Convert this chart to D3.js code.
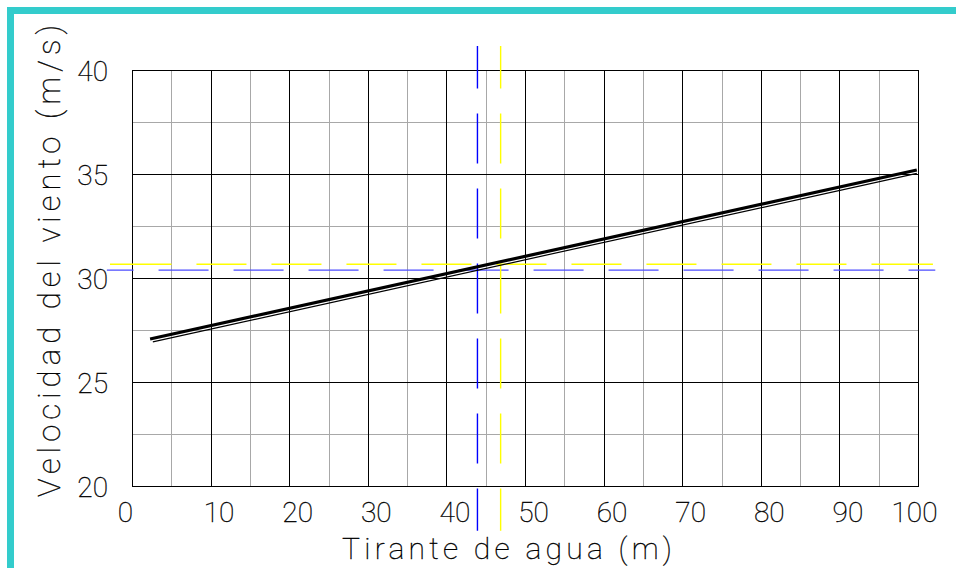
<!DOCTYPE html>
<html>
<head>
<meta charset="utf-8">
<script src="https://cdn.jsdelivr.net/npm/d3@7"></script>
<style>
  body { margin: 0; background: #fff; }
  svg { display: block; }
  text { font-family: Roboto, "DejaVu Sans", sans-serif; font-weight: 100; fill: #000; stroke: #000; stroke-width: 0.35; }
</style>
</head>
<body>
<div id="chart"></div>
<script>
// tirante de agua (m) vs velocidad del viento (m/s)
const lineUpper = [[2.3, 27.07], [99.85, 35.19]];
const lineLower = [[2.65, 26.93], [99.85, 35.03]];

// reference (dashed) lines
const vLines = [
  { x: 43.95, y0: 41.15, y1: 17.85, color: "#0000ff" },
  { x: 46.9, y0: 41.15, y1: 17.85, color: "#ffff00" }
];
const hLines = [
  { y: 30.38, x0: -3.2, x1: 102.2, color: "#4d4dff" },
  { y: 30.66, x0: -2.8, x1: 101.9, color: "#ffff00" }
];

const xTicks = [0, 10, 20, 30, 40, 50, 60, 70, 80, 90, 100];
const xMinor = [5, 15, 25, 35, 45, 55, 65, 75, 85, 95];
const yTicks = [20, 25, 30, 35, 40];
const yMinor = [22.5, 27.5, 32.5, 37.5];

const width = 956;
const height = 568;
const margin = { top: 70, right: 38, bottom: 82, left: 132 };

const svg = d3.select("#chart")
  .append("svg")
  .attr("width", width)
  .attr("height", height);

const x = d3.scaleLinear()
  .domain([0, 100])
  .range([margin.left, width - margin.right]);

const y = d3.scaleLinear()
  .domain([20, 40])
  .range([height - margin.bottom, margin.top]);

// cyan frame
svg.append("rect").attr("x", 7).attr("y", 7).attr("width", width - 7).attr("height", 7).attr("fill", "#33cccc");
svg.append("rect").attr("x", 7).attr("y", 7).attr("width", 7).attr("height", height - 7).attr("fill", "#33cccc");

const px = v => Math.round(v) + 0.5;

// grid
const grid = svg.append("g").attr("shape-rendering", "crispEdges");
grid.selectAll(".xm").data(xMinor).join("line")
  .attr("x1", d => px(x(d))).attr("x2", d => px(x(d)))
  .attr("y1", y(20)).attr("y2", y(40))
  .attr("stroke", "#a8a8a8");
grid.selectAll(".ym").data(yMinor).join("line")
  .attr("y1", d => px(y(d))).attr("y2", d => px(y(d)))
  .attr("x1", x(0)).attr("x2", x(100))
  .attr("stroke", "#a8a8a8");
grid.selectAll(".xM").data(xTicks).join("line")
  .attr("x1", d => px(x(d))).attr("x2", d => px(x(d)))
  .attr("y1", y(20)).attr("y2", y(40))
  .attr("stroke", "#000");
grid.selectAll(".yM").data(yTicks).join("line")
  .attr("y1", d => px(y(d))).attr("y2", d => px(y(d)))
  .attr("x1", x(0)).attr("x2", x(100) + 1)
  .attr("stroke", "#000");

// autocad-like dash pattern: line starts and ends with a dash
function acadDash(len, dash = 50, gap = 25) {
  const n = Math.max(0, Math.floor((len - dash - gap) / (dash + gap)));
  const e = (len - gap - (dash + gap) * n) / 2;
  const arr = [e, gap];
  for (let i = 0; i < n; i++) arr.push(dash, gap);
  arr.push(e + 1, 1000);
  return arr.join(",");
}

svg.append("g").selectAll("line").data(hLines).join("line")
  .attr("x1", d => x(d.x0)).attr("x2", d => x(d.x1))
  .attr("y1", d => y(d.y)).attr("y2", d => y(d.y))
  .attr("stroke", d => d.color).attr("stroke-width", 1.4)
  .attr("stroke-dasharray", d => acadDash(x(d.x1) - x(d.x0)));

svg.append("g").selectAll("line").data(vLines).join("line")
  .attr("x1", d => x(d.x)).attr("x2", d => x(d.x))
  .attr("y1", d => y(d.y0)).attr("y2", d => y(d.y1))
  .attr("stroke", d => d.color).attr("stroke-width", 1.4)
  .attr("stroke-dasharray", d => acadDash(y(d.y1) - y(d.y0)));

// data lines
const line = d3.line().x(d => x(d[0])).y(d => y(d[1]));
svg.append("path").datum(lineLower).attr("d", line)
  .attr("fill", "none").attr("stroke", "#000").attr("stroke-width", 1.2);
svg.append("path").datum(lineUpper).attr("d", line)
  .attr("fill", "none").attr("stroke", "#000").attr("stroke-width", 3.2);

// axes (labels only)
const xAxis = svg.append("g")
  .attr("transform", `translate(0,${y(20)})`)
  .call(d3.axisBottom(x).tickValues(xTicks).tickSize(0).tickPadding(0));
xAxis.select(".domain").remove();
xAxis.selectAll("text")
  .attr("font-family", null).attr("font-size", 28)
  .attr("y", 36).attr("dy", null)
  .attr("dx", (d, i) => i === 0 ? -7 : (i === xTicks.length - 1 ? -4 : 8));

const yAxis = svg.append("g")
  .attr("transform", `translate(${x(0)},0)`)
  .call(d3.axisLeft(y).tickValues(yTicks).tickSize(0).tickPadding(24));
yAxis.select(".domain").remove();
yAxis.selectAll("text")
  .attr("font-family", null).attr("font-size", 28)
  .attr("dy", 10);

svg.append("text")
  .attr("x", 507).attr("y", 559)
  .attr("text-anchor", "middle")
  .attr("font-size", 30)
  .attr("textLength", 330).attr("lengthAdjust", "spacing")
  .text("Tirante de agua (m)");

svg.append("text")
  .attr("transform", "translate(60,261) rotate(-90)")
  .attr("text-anchor", "middle")
  .attr("font-size", 31)
  .attr("textLength", 472).attr("lengthAdjust", "spacing")
  .text("Velocidad del viento (m/s)");
</script>
</body>
</html>
